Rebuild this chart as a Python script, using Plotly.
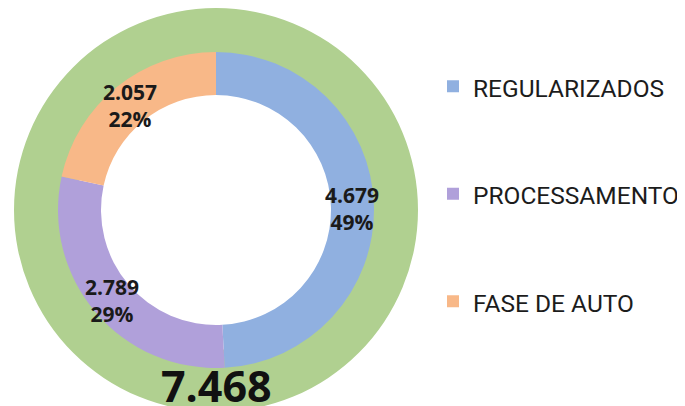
import math
import plotly.graph_objects as go

# ---- data ----
categories = ["REGULARIZADOS", "PROCESSAMENTO", "FASE DE AUTO"]
values = [4679, 2789, 2057]
total_label = "TOTAL"
total_value = 7468
colors = ["#90B0E0", "#B0A0DA", "#F8B888"]
total_color = "#B0D090"

# ---- layout geometry (pixels, figure coordinates) ----
W, H = 685, 406
PAGE = 8                   # the page places the figure 8px in from top-left
cx, cy = 216 - PAGE, 210 - PAGE   # centre of rings
r_in_outer = 158           # inner ring outer radius
r_in_hole = 115            # inner ring hole radius
r_out = 202                # outer green ring radius
TEXT_DY = 2                # small baseline nudge for ring labels


def dom_x(c, r):
    return [max(0, (c - r) / W), min(1, (c + r) / W)]


def dom_y(c, r):
    cb = H - c
    return [max(0, (cb - r) / H), min(1, (cb + r) / H)]


def fmt_int(v):
    return f"{v:,}".replace(",", ".")


fig = go.Figure()

# outer total ring
fig.add_trace(go.Pie(
    labels=[total_label], values=[total_value],
    marker=dict(colors=[total_color], line=dict(width=0)),
    hole=140 / r_out, sort=False, direction="clockwise", rotation=0,
    textinfo="none", showlegend=False, hoverinfo="label+value",
    domain=dict(x=dom_x(cx, r_out), y=dom_y(cy, r_out)),
))

# inner breakdown ring
legend_labels = ["\u00a0<br><span style='font-size:24.5px'>" + c + "</span><br>\u00a0"
                 for c in categories]
fig.add_trace(go.Pie(
    labels=legend_labels, values=values,
    marker=dict(colors=colors, line=dict(width=0)),
    hole=r_in_hole / r_in_outer, sort=False, direction="clockwise", rotation=0,
    textinfo="none", hoverinfo="value+percent",
    domain=dict(x=dom_x(cx, r_in_outer), y=dom_y(cy, r_in_outer)),
))

# data labels on inner ring
tot = sum(values)
rm = (r_in_outer + r_in_hole) / 2
cum = 0
annotations = []
for v in values:
    f = (cum + v / 2) / tot
    cum += v
    th = 2 * math.pi * f
    px = cx + rm * math.sin(th)
    py = cy - rm * math.cos(th) + TEXT_DY
    pct = round(100 * v / tot)
    annotations.append(dict(
        x=px / W, y=1 - py / H, xref="paper", yref="paper",
        text=f"<b>{fmt_int(v)}</b><br><b>{pct}%</b>", showarrow=False,
        font=dict(family="Open Sans", size=21, color="#1a1a1a"),
        xanchor="center", yanchor="middle", align="center",
    ))

# total label at bottom of outer ring
annotations.append(dict(
    x=cx / W, y=1 - 377 / H, xref="paper", yref="paper",
    text=f"<b>{fmt_int(total_value)}</b>", showarrow=False,
    font=dict(family="Open Sans", size=43, color="#111111"),
    xanchor="center", yanchor="middle",
))

fig.update_layout(
    width=W, height=H,
    margin=dict(l=0, r=0, t=0, b=0, autoexpand=False),
    paper_bgcolor="white", plot_bgcolor="white",
    annotations=annotations,
    legend=dict(
        x=425 / W, xanchor="left", y=1 - 186 / H, yanchor="middle",
        font=dict(family="Roboto", size=26.8, color="#1c1c1c"),
        bgcolor="rgba(0,0,0,0)",
    ),
)

fig.write_html("out.html")
